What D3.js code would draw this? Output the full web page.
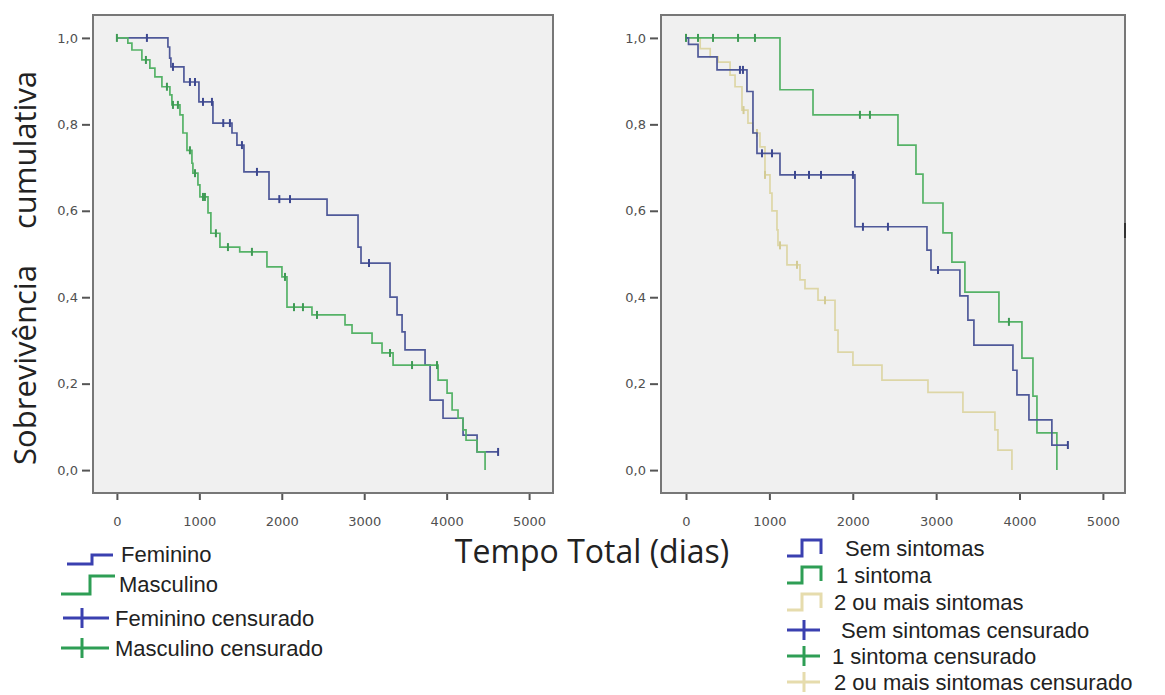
<!DOCTYPE html>
<html>
<head>
<meta charset="utf-8">
<script src="https://cdn.jsdelivr.net/npm/d3@7"></script>
<style>
  body { margin: 0; background: #fff; }
  svg { display: block; }
</style>
</head>
<body>
<div id="chart"></div>
<script>
//Ticks
var xTicks = [0, 1000, 2000, 3000, 4000, 5000];
var yTicks = [0, 0.2, 0.4, 0.6, 0.8, 1.0];
var yTickLabels = ["0,0", "0,2", "0,4", "0,6", "0,8", "1,0"];

//Left panel (sexo): [tempo em dias, sobrevivencia depois do evento]
var femininoSteps = [[619,0.979],[640,0.953],[655,0.933],[813,0.898],[995,0.852],[1165,0.803],[1396,0.78],[1456,0.752],
  [1541,0.69],[1845,0.627],[2549,0.59],[2925,0.516],[2961,0.479],[3313,0.40],[3398,0.359],[3459,0.32],[3495,0.278],
  [3738,0.243],[3799,0.162],[3956,0.12],[4199,0.081],[4369,0.042]];
var femininoEnd = 4624;
var femininoCensored = [364,680,886,947,1044,1153,1290,1371,1517,1699,1970,2100,3058,4624];

var masculinoSteps = [[133,0.988],[182,0.972],[303,0.949],[400,0.93],[461,0.91],[546,0.887],[643,0.868],[667,0.845],
  [765,0.822],[801,0.78],[850,0.74],[910,0.71],[922,0.687],[983,0.66],[1007,0.632],[1105,0.595],[1140,0.548],
  [1250,0.516],[1490,0.505],[1820,0.47],[2002,0.447],[2063,0.377],[2366,0.359],[2767,0.336],[2852,0.317],
  [3095,0.294],[3216,0.271],[3350,0.243],[3896,0.208],[4005,0.178],[4066,0.139],[4138,0.12],[4199,0.093],
  [4235,0.069],[4369,0.042],[4466,0.0]];
var masculinoEnd = 4466;
var masculinoCensored = [0,352,607,680,740,886,947,1044,1068,1201,1347,1638,2039,2148,2257,2427,3313,3580,3883];

//Right panel (sintomas)
var semSintomasSteps = [[30,0.985],[144,0.956],[372,0.926],[731,0.876],[803,0.78],[851,0.733],[1127,0.683],
  [2026,0.563],[2890,0.509],[2938,0.463],[3285,0.403],[3381,0.347],[3453,0.289],[3921,0.231],[3969,0.174],
  [4113,0.116],[4388,0.058]];
var semSintomasEnd = 4580;
var semSintomasCensored = [647,683,911,1031,1307,1475,1619,2002,2122,2422,3022,4580];

var umSintomaSteps = [[1127,0.88],[1523,0.822],[2542,0.752],[2758,0.685],[2842,0.618],[3082,0.549],[3189,0.481],
  [3345,0.412],[3753,0.343],[4029,0.259],[4161,0.171],[4209,0.086],[4448,0.0]];
var umSintomaEnd = 4448;
var umSintomaCensored = [0,144,324,624,827,2086,2206,3873];

var doisMaisSteps = [[170,0.975],[290,0.956],[385,0.944],[528,0.914],[588,0.887],[671,0.833],[743,0.803],[803,0.78],
  [887,0.748],[947,0.683],[1007,0.641],[1031,0.60],[1091,0.556],[1103,0.52],[1211,0.475],[1367,0.44],[1427,0.42],
  [1583,0.393],[1787,0.324],[1823,0.273],[2002,0.243],[2350,0.208],[2902,0.18],[3321,0.134],[3705,0.093],
  [3741,0.046],[3909,0.0]];
var doisMaisEnd = 3909;
var doisMaisCensored = [0,690,851,947,1127,1331,1667];

//Legend labels
var legendLeft = ["Feminino", "Masculino", "Feminino censurado", "Masculino censurado"];
var legendRight = ["Sem sintomas", "1 sintoma", "2 ou mais sintomas", "Sem sintomas censurado",
  "1 sintoma censurado", "2 ou mais sintomas censurado"];

var w = 1165, h = 695;
var top_ = 15, bottom_ = 493;

var svg = d3.select("#chart").append("svg")
  .attr("width", w)
  .attr("height", h);

svg.append("rect").attr("width", w).attr("height", h).attr("fill", "#fff");

var yScale = d3.scaleLinear().domain([-0.053, 1.053]).range([bottom_, top_]);

function survAt(steps, t) {
  var s = 1;
  steps.forEach(function(d) { if (d[0] <= t) s = d[1]; });
  return s;
}

var stepLine = d3.line().curve(d3.curveStepAfter);

function drawPanel(left, right, xDomain, series) {
  var xScale = d3.scaleLinear().domain(xDomain).range([left, right]);

  // plot frame
  svg.append("rect")
    .attr("x", left).attr("y", top_)
    .attr("width", right - left).attr("height", bottom_ - top_)
    .attr("fill", "#f0f0f0")
    .attr("stroke", "#777")
    .attr("stroke-width", 2);

  // X axis
  var gx = svg.append("g")
    .attr("transform", "translate(0," + (bottom_ + 1) + ")")
    .call(d3.axisBottom(xScale).tickValues(xTicks).tickFormat(d3.format("d"))
      .tickSize(6).tickPadding(17).tickSizeOuter(0));
  gx.select(".domain").remove();

  // Y axis
  var gy = svg.append("g")
    .attr("transform", "translate(" + (left - 3) + ",0)")
    .call(d3.axisLeft(yScale).tickValues(yTicks)
      .tickFormat(function(d, i) { return yTickLabels[i]; })
      .tickSize(8).tickPadding(4).tickSizeOuter(0));
  gy.select(".domain").remove();

  [gx, gy].forEach(function(g) {
    g.selectAll("line").attr("stroke", "#555").attr("stroke-width", 2);
    g.selectAll("text")
      .attr("fill", "#505050")
      .style("font-family", "DejaVu Sans")
      .style("font-size", "13px");
  });

  series.forEach(function(s) {
    var last = s.steps[s.steps.length - 1];
    var pts = [[0, 1]].concat(s.steps);
    if (last[0] < s.end) pts.push([s.end, last[1]]);

    svg.append("path")
      .attr("d", stepLine(pts.map(function(d) { return [xScale(d[0]), yScale(d[1])]; })))
      .attr("fill", "none")
      .attr("stroke", s.color)
      .attr("stroke-width", 1.7);

    // censored marks
    svg.selectAll(null)
      .data(s.censored)
      .enter()
      .append("line")
      .attr("x1", function(d) { return xScale(d); })
      .attr("x2", function(d) { return xScale(d); })
      .attr("y1", function(d) { return yScale(survAt(s.steps, d)) - 4; })
      .attr("y2", function(d) { return yScale(survAt(s.steps, d)) + 4; })
      .attr("stroke", s.mark)
      .attr("stroke-width", 2);
  });
}

drawPanel(93, 553, [-290, 5290], [
  {steps: femininoSteps, end: femininoEnd, censored: femininoCensored, color: "#4f5999", mark: "#3d4890"},
  {steps: masculinoSteps, end: masculinoEnd, censored: masculinoCensored, color: "#55b267", mark: "#3f9a55"}
]);

drawPanel(661, 1125, [-300, 5265], [
  {steps: doisMaisSteps, end: doisMaisEnd, censored: doisMaisCensored, color: "#ddd6a6", mark: "#d3cb95"},
  {steps: umSintomaSteps, end: umSintomaEnd, censored: umSintomaCensored, color: "#55b267", mark: "#3f9a55"},
  {steps: semSintomasSteps, end: semSintomasEnd, censored: semSintomasCensored, color: "#4f5999", mark: "#3d4890"}
]);

// small dark mark on right frame
svg.append("line")
  .attr("x1", 1125).attr("x2", 1125).attr("y1", 223).attr("y2", 238)
  .attr("stroke", "#333").attr("stroke-width", 2);

//Axis titles
svg.append("text")
  .attr("x", 592).attr("y", 563)
  .attr("text-anchor", "middle")
  .style("font-family", "Open Sans")
  .style("font-size", "32px")
  .attr("fill", "#222")
  .text("Tempo Total (dias)");

svg.append("text")
  .attr("transform", "translate(36,365) rotate(-90)")
  .attr("text-anchor", "middle")
  .style("font-family", "Open Sans")
  .style("font-size", "31px")
  .attr("fill", "#222")
  .text("Sobrevivência");

svg.append("text")
  .attr("transform", "translate(36,150) rotate(-90)")
  .attr("text-anchor", "middle")
  .style("font-family", "Open Sans")
  .style("font-size", "31px")
  .attr("fill", "#222")
  .text("cumulativa");

//Legends
var blueL = "#3a40b0", greenL = "#2e9e55", beigeL = "#e6dcad";

var leftRows = [554, 584, 618, 648];
var leftIcons = [
  {d: function(r) { return "M67," + (r + 10) + "H92V" + (r + 1) + "H113"; }, c: blueL, x: 121},
  {d: function(r) { return "M61," + (r + 10) + "H90V" + (r - 8) + "H115"; }, c: greenL, x: 119},
  {d: function(r) { return "M63," + r + "H109M82," + (r - 10) + "V" + (r + 10); }, c: blueL, x: 115},
  {d: function(r) { return "M61," + r + "H109M82," + (r - 10) + "V" + (r + 10); }, c: greenL, x: 115}
];
legendLeft.forEach(function(lbl, i) {
  var r = leftRows[i];
  svg.append("path").attr("d", leftIcons[i].d(r)).attr("fill", "none")
    .attr("stroke", leftIcons[i].c).attr("stroke-width", 3);
  svg.append("text")
    .attr("x", leftIcons[i].x).attr("y", r).attr("dy", "0.35em")
    .style("font-family", "Liberation Sans")
    .style("font-size", "22px")
    .attr("fill", "#222")
    .text(lbl);
});

var rightRows = [548, 575, 602, 630, 656, 682];
var stepIcon = function(r) { return "M787," + (r + 8) + "H802V" + (r - 8) + "H821V" + (r + 6); };
var crossIcon = function(r) { return "M787," + r + "H820M804," + (r - 10) + "V" + (r + 10); };
var rightIcons = [
  {d: stepIcon, c: blueL, x: 845},
  {d: stepIcon, c: greenL, x: 836},
  {d: stepIcon, c: beigeL, x: 834},
  {d: crossIcon, c: blueL, x: 841},
  {d: crossIcon, c: greenL, x: 832},
  {d: crossIcon, c: beigeL, x: 834}
];
legendRight.forEach(function(lbl, i) {
  var r = rightRows[i];
  svg.append("path").attr("d", rightIcons[i].d(r)).attr("fill", "none")
    .attr("stroke", rightIcons[i].c).attr("stroke-width", 3);
  svg.append("text")
    .attr("x", rightIcons[i].x).attr("y", r).attr("dy", "0.35em")
    .style("font-family", "Liberation Sans")
    .style("font-size", "22px")
    .attr("fill", "#222")
    .text(lbl);
});
</script>
</body>
</html>
